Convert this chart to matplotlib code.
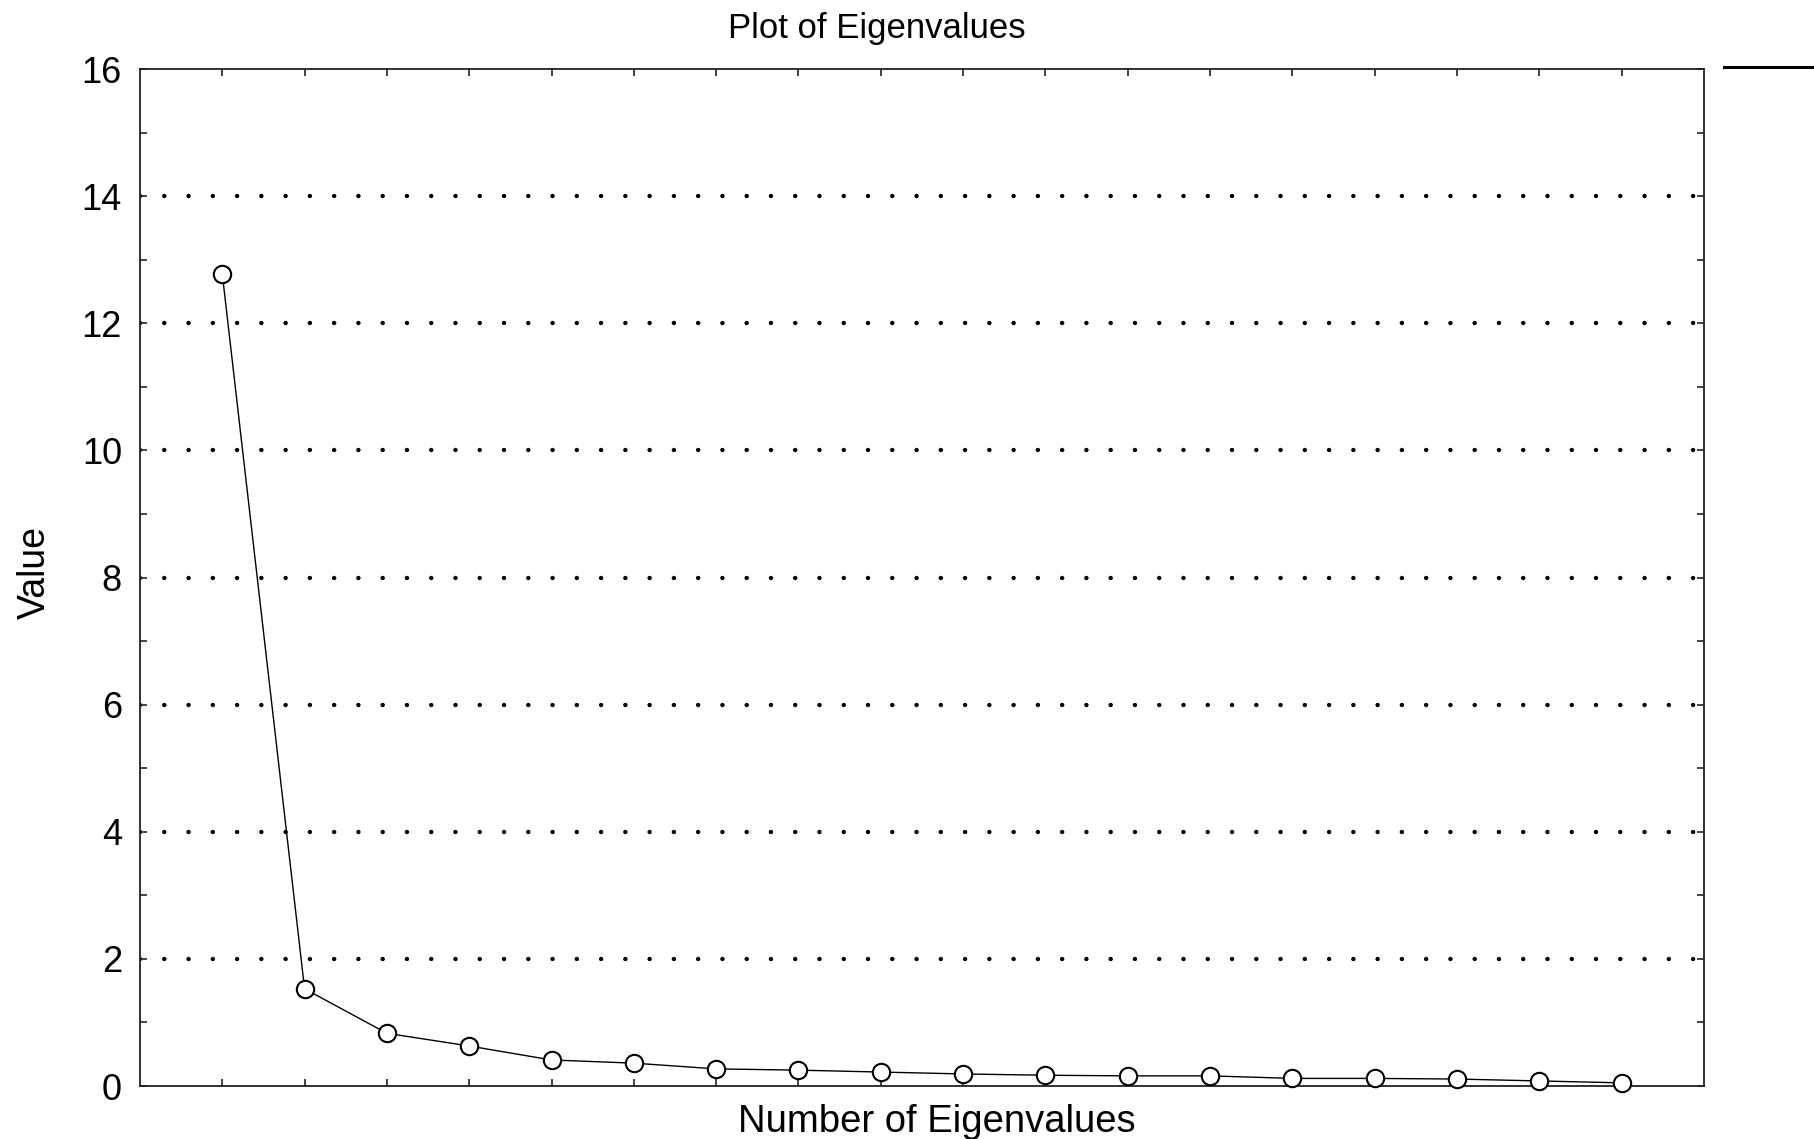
import matplotlib.pyplot as plt
from matplotlib.lines import Line2D
from matplotlib.ticker import MultipleLocator

plt.rcParams['font.family'] = ['Liberation Sans', 'DejaVu Sans']

# eigenvalues in decreasing order
n_eigen = list(range(1, 19))
eigenvalues = [12.78, 1.53, 0.83, 0.63, 0.41, 0.36, 0.27, 0.25, 0.22,
               0.19, 0.17, 0.16, 0.16, 0.12, 0.12, 0.11, 0.08, 0.05]

y_ticks = [0, 2, 4, 6, 8, 10, 12, 14, 16]
grid_levels = [2, 4, 6, 8, 10, 12, 14]

fig = plt.figure(figsize=(18.15, 11.39), dpi=100)
ax = fig.add_axes([0.0771, 0.0465, 0.8617, 0.8929])

# dotted reference lines
for lvl in grid_levels:
    ax.axhline(lvl, color='black', linewidth=3.2,
               linestyle=(0, (0.01, 5.45)), dash_capstyle='round', zorder=1)

ax.plot(n_eigen, eigenvalues, color='black', linewidth=1.0,
        marker='o', markersize=12.5, markerfacecolor='white',
        markeredgecolor='black', markeredgewidth=1.5, zorder=3,
        clip_on=False)

ax.set_xlim(0, 19)
ax.set_ylim(0, 16)
ax.set_xticks(n_eigen)
ax.set_xticklabels([])
ax.set_yticks(y_ticks)
ax.set_yticklabels([str(v) for v in y_ticks])
ax.yaxis.set_minor_locator(MultipleLocator(1))

ax.tick_params(axis='both', which='both', direction='in', length=5,
               width=1.2, color='#222222', top=True, right=True)
ax.tick_params(axis='y', labelsize=26, pad=13)

for sp in ax.spines.values():
    sp.set_linewidth(1.3)
    sp.set_color('#222222')

fig.text(0.483, 0.9666, 'Plot of Eigenvalues', fontsize=25,
         ha='center', va='baseline')
fig.text(0.516, 0.006, 'Number of Eigenvalues', fontsize=27.5,
         ha='center', va='baseline')
fig.text(0.0245, 0.497, 'Value', fontsize=27, rotation=90,
         ha='center', va='baseline', rotation_mode='anchor')

# short line segment at the top right
fig.add_artist(Line2D([0.95, 1.0], [0.941, 0.941], color='black',
                      linewidth=2.2, transform=fig.transFigure))

fig.savefig('out.png', dpi=100)
